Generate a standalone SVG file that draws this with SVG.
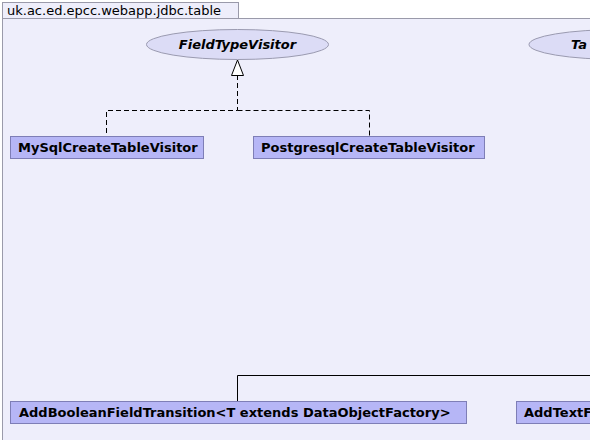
<svg xmlns="http://www.w3.org/2000/svg" width="590" height="440" viewBox="0 0 590 440">
<style>
.frame{fill:#eeeefb;stroke:#9a9aaa;stroke-width:1}
.tab{fill:#eeeefb;stroke:#9a9aaa;stroke-width:1}
.tabtxt{font-family:"DejaVu Sans",sans-serif;font-size:13px;fill:#000}
.iface{fill:#dcdcf6;stroke:#9a9ab0;stroke-width:1}
.itxt{font-family:"DejaVu Sans",sans-serif;font-size:13px;font-weight:bold;font-style:italic;fill:#000}
.cls{fill:#b6b6f6;stroke:#7e7eb6;stroke-width:1}
.ctxt{font-family:"DejaVu Sans",sans-serif;font-size:13px;font-weight:bold;fill:#000}
.dash{fill:none;stroke:#000;stroke-width:1;stroke-dasharray:5,3}
.solid{fill:none;stroke:#000;stroke-width:1}
</style>
<rect x="0" y="0" width="590" height="440" fill="#ffffff"/>
<rect class="frame" x="2.5" y="18.5" width="600" height="440"/>
<g id="package-tab">
<rect class="tab" x="2.5" y="2.5" width="236" height="16"/>
<text class="tabtxt" x="7" y="15">uk.ac.ed.epcc.webapp.jdbc.table</text>
</g>
<g id="connectors">
<path class="dash" d="M237.5,75 V110.5 H106.5 V136"/>
<path class="dash" d="M237.5,110.5 H369.5 V136"/>
<polygon points="237.5,60 231.5,75.5 243.5,75.5" fill="#fff" stroke="#000" stroke-width="1"/>
<path class="solid" d="M237.5,401 V375.5 H590"/>
</g>
<g id="FieldTypeVisitor">
<ellipse class="iface" cx="237.5" cy="44.5" rx="91" ry="15"/>
<text class="itxt" x="237.5" y="49" text-anchor="middle">FieldTypeVisitor</text>
</g>
<g id="TableVisitor">
<ellipse class="iface" cx="620" cy="44.5" rx="91" ry="15"/>
<text class="itxt" x="571" y="49">Ta</text>
</g>
<g id="MySqlCreateTableVisitor">
<rect class="cls" x="10.5" y="136.5" width="193" height="22"/>
<text class="ctxt" x="18" y="152">MySqlCreateTableVisitor</text>
</g>
<g id="PostgresqlCreateTableVisitor">
<rect class="cls" x="253.5" y="136.5" width="231" height="22"/>
<text class="ctxt" x="261" y="152">PostgresqlCreateTableVisitor</text>
</g>
<g id="AddBooleanFieldTransition">
<rect class="cls" x="10.5" y="401.5" width="456" height="22"/>
<text class="ctxt" x="19" y="417">AddBooleanFieldTransition&lt;T extends DataObjectFactory&gt;</text>
</g>
<g id="AddTextFieldTransition">
<rect class="cls" x="516.5" y="401.5" width="100" height="22"/>
<text class="ctxt" x="524" y="417">AddTextF</text>
</g>
</svg>
